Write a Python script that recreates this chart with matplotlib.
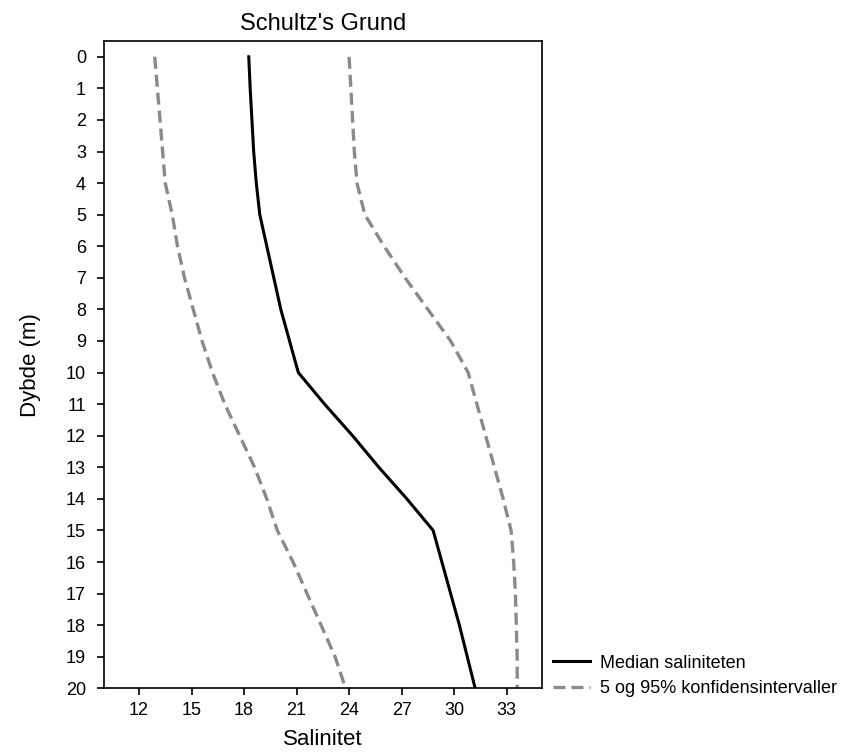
import matplotlib as mpl
import matplotlib.pyplot as plt

mpl.rcParams.update(
    {
        "font.family": ["Liberation Sans", "DejaVu Sans"],
        "font.size": 13,
        "axes.linewidth": 1.2,
        "xtick.major.width": 1.2,
        "ytick.major.width": 1.2,
        "xtick.major.size": 5,
        "ytick.major.size": 5,
    }
)

# depth (m) and salinity profiles
depth = list(range(0, 21))
median_sal = [
    18.27, 18.35, 18.45, 18.55, 18.7, 18.9, 19.3, 19.7, 20.1, 20.6, 21.1,
    22.6, 24.2, 25.7, 27.3, 28.8, 29.3, 29.8, 30.3, 30.75, 31.2,
]
ci_low = [
    12.9, 13.05, 13.2, 13.35, 13.5, 13.9, 14.2, 14.6, 15.1, 15.6, 16.2,
    16.9, 17.75, 18.6, 19.3, 19.9, 20.8, 21.6, 22.4, 23.2, 23.8,
]
ci_high = [
    24.0, 24.1, 24.2, 24.3, 24.45, 24.9, 26.0, 27.2, 28.5, 29.8, 30.8,
    31.3, 31.8, 32.3, 32.8, 33.25, 33.4, 33.5, 33.55, 33.6, 33.6,
]
x_ticks = [12, 15, 18, 21, 24, 27, 30, 33]

GREY = "#8a8a8a"

fig = plt.figure(figsize=(8.46, 7.54), dpi=100)
ax = fig.add_axes([0.1229, 0.0871, 0.5174, 0.8585])

ax.plot(median_sal, depth, color="black", lw=2.2, label="Median saliniteten")
ax.plot(ci_low, depth, color=GREY, lw=2.4, dashes=(3.6, 1.8),
        label="5 og 95% konfidensintervaller")
ax.plot(ci_high, depth, color=GREY, lw=2.4, dashes=(3.6, 1.8))

ax.set_xlim(10, 35)
ax.set_ylim(20, -0.5)
ax.set_xticks(x_ticks)
ax.set_yticks(depth)
ax.tick_params(axis="x", labelsize=13, pad=5)
ax.tick_params(axis="y", labelsize=13, pad=8)
ax.set_xlabel("Salinitet", fontsize=16, labelpad=7)
ax.set_ylabel("Dybde (m)", fontsize=16, labelpad=18)
ax.set_title("Schultz's Grund", fontsize=17, pad=8)

ax.legend(
    loc="center left",
    bbox_to_anchor=(1.026, 0.019),
    frameon=False,
    fontsize=13,
    borderpad=0,
    borderaxespad=0,
    handlelength=2.05,
    handletextpad=0.55,
    labelspacing=0.49,
)

fig.savefig("out.png", dpi=100)
